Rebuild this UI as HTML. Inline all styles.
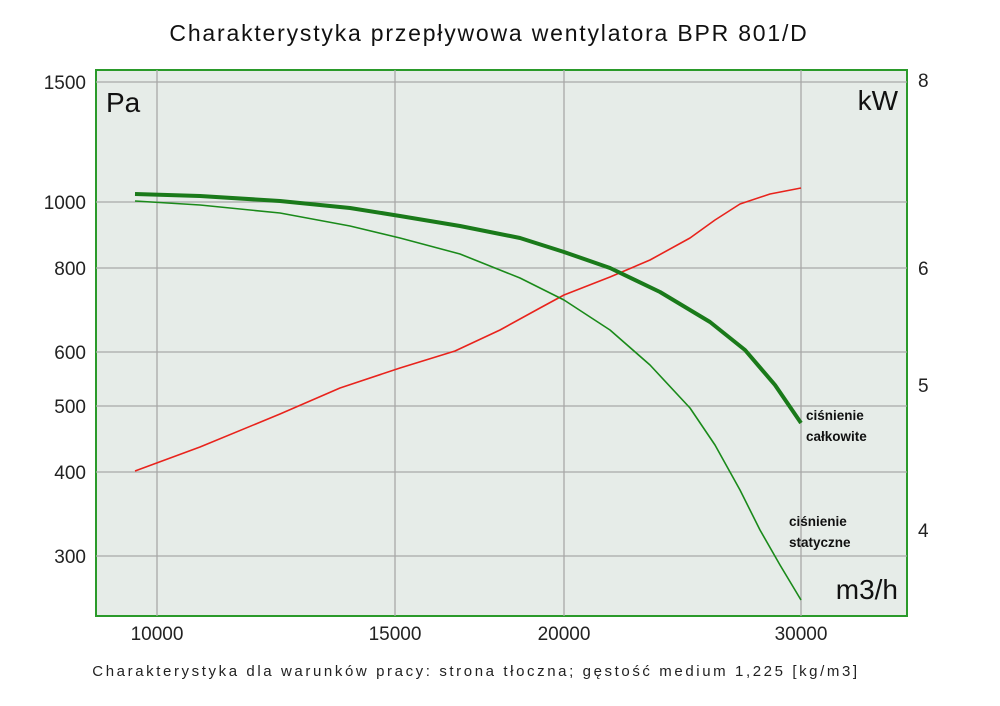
<!DOCTYPE html>
<html><head><meta charset="utf-8"><style>body{margin:0;background:#fff}svg{display:block}</style></head><body>
<svg width="1000" height="706" xmlns="http://www.w3.org/2000/svg" font-family="Liberation Sans, DejaVu Sans, sans-serif">
<text x="489" y="41" font-size="23" text-anchor="middle" fill="#111" letter-spacing="1.8">Charakterystyka przepływowa wentylatora BPR 801/D</text>
<rect x="96" y="70" width="811" height="546" fill="#e6ece8" stroke="#2a9a2a" stroke-width="2"/>
<g stroke="#a8a8a8" stroke-width="1.3">
<line x1="157" y1="70" x2="157" y2="616"/><line x1="395" y1="70" x2="395" y2="616"/><line x1="564" y1="70" x2="564" y2="616"/><line x1="801" y1="70" x2="801" y2="616"/>
<line x1="96" y1="82" x2="907" y2="82"/><line x1="96" y1="202" x2="907" y2="202"/><line x1="96" y1="268" x2="907" y2="268"/><line x1="96" y1="352" x2="907" y2="352"/><line x1="96" y1="406" x2="907" y2="406"/><line x1="96" y1="472" x2="907" y2="472"/><line x1="96" y1="556" x2="907" y2="556"/>
</g>
<g font-size="19" fill="#222" text-anchor="end">
<text x="86" y="89">1500</text><text x="86" y="209">1000</text><text x="86" y="275">800</text><text x="86" y="359">600</text><text x="86" y="413">500</text><text x="86" y="479">400</text><text x="86" y="563">300</text>
</g>
<g font-size="19" fill="#222">
<text x="918" y="87">8</text><text x="918" y="275">6</text><text x="918" y="392">5</text><text x="918" y="537">4</text>
</g>
<g font-size="19" fill="#222" text-anchor="middle">
<text x="157" y="640">10000</text><text x="395" y="640">15000</text><text x="564" y="640">20000</text><text x="801" y="640">30000</text>
</g>
<text x="106" y="112" font-size="28" fill="#111">Pa</text>
<text x="898" y="110" font-size="28" fill="#111" text-anchor="end">kW</text>
<text x="898" y="599" font-size="28" fill="#111" text-anchor="end">m3/h</text>
<polyline fill="none" stroke="#e8231c" stroke-width="1.6" stroke-linejoin="round" points="135,471 200,447 280,414 340,388 400,368 455,351 500,330 540,308 564,295 610,277 650,260 690,238 715,220 740,204 770,194 801,188"/>
<polyline fill="none" stroke="#1a8a1a" stroke-width="1.6" stroke-linejoin="round" points="135,201 200,205 280,213 350,226 400,238 460,254 520,278 564,300 610,330 650,365 690,408 715,445 740,490 760,530 780,565 801,600"/>
<polyline fill="none" stroke="#1a7a1a" stroke-width="4" stroke-linejoin="round" points="135,194 200,196 280,201 350,208 400,216 460,226 520,238 564,252 610,268 660,292 710,322 745,350 775,385 801,423"/>
<g font-size="13.5" font-weight="bold" fill="#111">
<text x="806" y="420">ciśnienie</text><text x="806" y="441">całkowite</text>
<text x="789" y="526">ciśnienie</text><text x="789" y="547">statyczne</text>
</g>
<text x="476" y="676" font-size="15" fill="#222" text-anchor="middle" letter-spacing="2.6">Charakterystyka dla warunków pracy: strona tłoczna; gęstość medium 1,225 [kg/m3]</text>
</svg>
</body></html>
